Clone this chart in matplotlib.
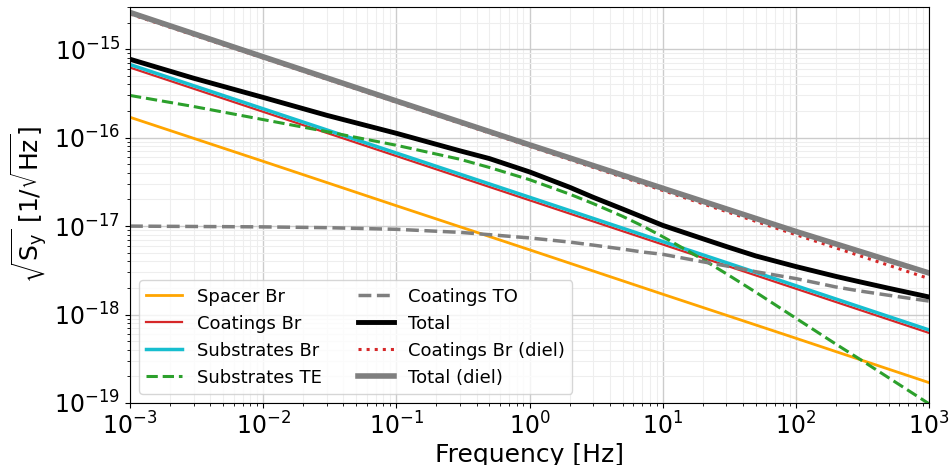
import numpy as np
import matplotlib
matplotlib.use('Agg')
import matplotlib.pyplot as plt

freq_dec = [1e-3, 1e-2, 1e-1, 1e0, 1e1, 1e2, 1e3]
freq = [1e-3, 3e-3, 1e-2, 3e-2, 1e-1, 3e-1, 5e-1, 1, 2, 3, 5, 7, 10,
        20, 30, 50, 100, 200, 300, 500, 1000]

# power-law contributions (values at decades)
spacer_br = [1.7e-16, 5.4e-17, 1.7e-17, 5.4e-18, 1.7e-18, 5.4e-19, 1.7e-19]
coatings_br = [6.2e-16, 1.96e-16, 6.2e-17, 1.96e-17, 6.2e-18, 1.96e-18, 6.2e-19]
substrates_br = [6.7e-16, 2.12e-16, 6.7e-17, 2.12e-17, 6.7e-18, 2.12e-18, 6.7e-19]
coatings_br_diel = [2.5e-15, 7.95e-16, 2.52e-16, 8.0e-17, 2.53e-17, 8.0e-18, 2.55e-18]

freq_diel = [1e-3, 1e-2, 1e-1, 1e0, 1e1, 1e2, 3e2, 1e3]
total_diel = [2.6e-15, 8.2e-16, 2.6e-16, 8.3e-17, 2.68e-17, 8.7e-18, 5.2e-18, 2.95e-18]

# curved contributions (values at freq)
substrates_te = [3.0e-16, 2.25e-16, 1.6e-16, 1.17e-16, 8.2e-17, 5.7e-17, 4.6e-17, 3.35e-17,
                 2.3e-17, 1.8e-17, 1.29e-17, 1.01e-17, 7.6e-18, 4.2e-18, 2.9e-18,
                 1.79e-18, 9.1e-19, 4.63e-19, 3.15e-19, 1.92e-19, 9.8e-20]
coatings_to = [1.0e-17, 9.9e-18, 9.8e-18, 9.6e-18, 9.2e-18, 8.5e-18, 8.0e-18, 7.35e-18,
               6.6e-18, 6.1e-18, 5.5e-18, 5.1e-18, 4.8e-18, 3.95e-18, 3.55e-18,
               3.05e-18, 2.55e-18, 2.05e-18, 1.85e-18, 1.65e-18, 1.42e-18]
total = [7.7e-16, 4.7e-16, 2.85e-16, 1.79e-16, 1.12e-16, 7.1e-17, 5.8e-17, 4.1e-17,
         2.75e-17, 2.12e-17, 1.56e-17, 1.27e-17, 1.02e-17, 7.2e-18, 5.88e-18,
         4.6e-18, 3.49e-18, 2.7e-18, 2.35e-18, 1.98e-18, 1.58e-18]

plt.rcParams['font.size'] = 18
plt.rcParams['xtick.labelsize'] = 17
plt.rcParams['ytick.labelsize'] = 17

fig = plt.figure(figsize=(9.51, 4.65), dpi=100)
ax = fig.add_axes([130 / 951, 62 / 465, 799 / 951, 396 / 465])

ax.loglog(freq_dec, spacer_br, color='orange', lw=2, label='Spacer Br')
ax.loglog(freq_dec, coatings_br, color='tab:red', lw=1.6, label='Coatings Br')
ax.loglog(freq_dec, substrates_br, color='tab:cyan', lw=2.5, label='Substrates Br')
ax.loglog(freq, substrates_te, color='tab:green', lw=2.2, ls='--', label='Substrates TE')
ax.loglog(freq, coatings_to, color='tab:gray', lw=2.5, ls='--', label='Coatings TO')
ax.loglog(freq, total, color='black', lw=3.5, label='Total')
ax.loglog(freq_dec, coatings_br_diel, color='tab:red', lw=2.2, ls=':', label='Coatings Br (diel)')
ax.loglog(freq_diel, total_diel, color='tab:gray', lw=4, label='Total (diel)')

ax.set_xlim(1e-3, 1e3)
ax.set_ylim(1e-19, 3e-15)
ax.set_xticks(freq_dec)
ax.set_yticks([1e-19, 1e-18, 1e-17, 1e-16, 1e-15])
ax.grid(True, which='major', color='#cccccc', lw=1)
ax.grid(True, which='minor', color='#eeeeee', lw=0.8)
ax.set_xlabel('Frequency [Hz]', labelpad=2)
ax.set_ylabel(r'$\sqrt{\mathrm{S_y}}$ [1/$\sqrt{\mathrm{Hz}}$]')
ax.legend(ncol=2, loc='lower left', fontsize=13)

fig.savefig('out.png', dpi=100)
